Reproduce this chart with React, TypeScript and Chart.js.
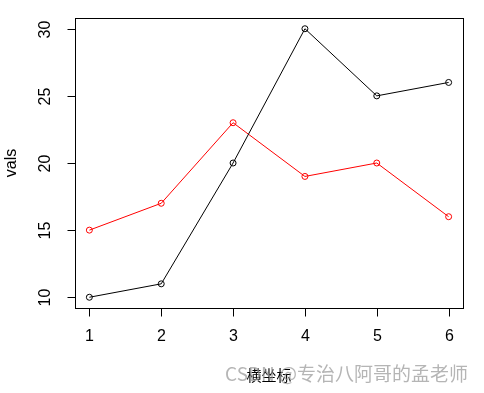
import React, { useEffect, useRef } from "react";
import { Chart, registerables } from "chart.js";

Chart.register(...registerables);

const categories = [1, 2, 3, 4, 5, 6];
const blackVals = [10, 11, 20, 30, 25, 26];
const redVals = [15, 17, 23, 19, 20, 16];
const yTicks = [10, 15, 20, 25, 30];
const xTitle = "横坐标";
const yTitle = "vals";
const watermark = "CSDN @专治八阿哥的孟老师";

const W = 484;
const H = 393;

const framePlugin = {
  id: "rframe",
  afterDraw(chart: any) {
    const ctx = chart.ctx as CanvasRenderingContext2D;
    const { left, right, top, bottom } = chart.chartArea;
    const xs = chart.scales.x;
    const ys = chart.scales.y;
    ctx.save();
    ctx.strokeStyle = "#000";
    ctx.lineWidth = 1;
    ctx.strokeRect(Math.round(left) + 0.5, Math.round(top) + 0.5, Math.round(right - left), Math.round(bottom - top));
    ctx.fillStyle = "#000";
    ctx.font = "16px 'Liberation Sans', Arial, sans-serif";
    ctx.textAlign = "center";
    ctx.textBaseline = "middle";
    categories.forEach((c) => {
      const px = Math.round(xs.getPixelForValue(c)) + 0.5;
      ctx.beginPath();
      ctx.moveTo(px, Math.round(bottom) + 0.5);
      ctx.lineTo(px, Math.round(bottom) + 8.5);
      ctx.stroke();
      ctx.fillText(String(c), px, bottom + 29);
    });
    yTicks.forEach((v) => {
      const py = Math.round(ys.getPixelForValue(v)) + 0.5;
      ctx.beginPath();
      ctx.moveTo(Math.round(left) + 0.5, py);
      ctx.lineTo(Math.round(left) - 7.5, py);
      ctx.stroke();
      ctx.save();
      ctx.translate(left - 29, py);
      ctx.rotate(-Math.PI / 2);
      ctx.fillText(String(v), 0, 0);
      ctx.restore();
    });
    ctx.save();
    ctx.translate(12, (top + bottom) / 2);
    ctx.rotate(-Math.PI / 2);
    ctx.fillText(yTitle, 0, 0);
    ctx.restore();
    ctx.font = "15px 'Noto Sans CJK SC', sans-serif";
    ctx.fillText(xTitle, (left + right) / 2, 375);
    ctx.font = "19px 'Noto Sans CJK SC', sans-serif";
    ctx.fillStyle = "rgba(150,150,150,0.7)";
    ctx.textAlign = "right";
    ctx.fillText(watermark, 468, 374);
    ctx.restore();
  },
};

export default function App() {
  const ref = useRef<HTMLCanvasElement | null>(null);
  useEffect(() => {
    if (!ref.current) return;
    const mk = (vals: number[], color: string) => ({
      data: categories.map((c, i) => ({ x: c, y: vals[i] })),
      borderColor: color,
      backgroundColor: "rgba(0,0,0,0)",
      borderWidth: 1,
      pointRadius: 3,
      pointBorderWidth: 1,
      pointBorderColor: color,
      pointBackgroundColor: "rgba(0,0,0,0)",
      tension: 0,
    });
    const chart = new Chart(ref.current, {
      type: "line",
      data: { datasets: [mk(blackVals, "#000000"), mk(redVals, "#ff0000")] as any },
      options: {
        responsive: false,
        animation: false,
        devicePixelRatio: 1,
        layout: { padding: { left: 75, top: 18, right: 21, bottom: 85 } },
        plugins: { legend: { display: false }, tooltip: { enabled: false } },
        scales: {
          x: { type: "linear", min: 0.8, max: 6.2, display: false },
          y: { type: "linear", min: 9.2, max: 30.8, display: false },
        },
      },
      plugins: [framePlugin],
    });
    return () => chart.destroy();
  }, []);
  return (
    <div style={{ position: "fixed", left: 0, top: 0, width: W, height: H, background: "#fff" }}>
      <canvas ref={ref} width={W} height={H} style={{ width: W, height: H, display: "block" }} />
    </div>
  );
}
